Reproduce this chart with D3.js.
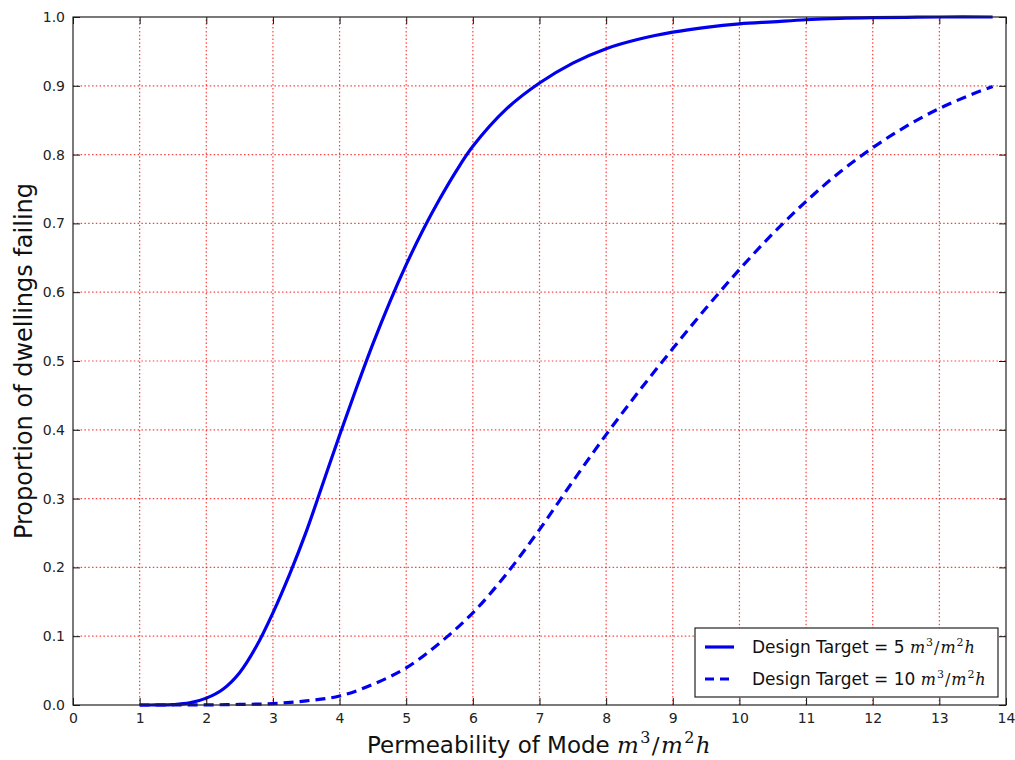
<!DOCTYPE html>
<html>
<head>
<meta charset="utf-8">
<script src="https://cdn.jsdelivr.net/npm/d3@7"></script>
<style>
  body { margin: 0; background: #fff; }
  svg { display: block; }
  .tick-label { font-family: "DejaVu Sans", sans-serif; font-size: 14px; fill: #222; }
</style>
</head>
<body>
<svg id="chart" width="1015" height="760"></svg>
<script>
// Permeability (m3/m2h) sample points for each curve
const permeability5 = [1, 1.25, 1.5, 1.75, 2, 2.25, 2.5, 2.75, 3, 3.25, 3.5, 3.75, 4, 4.25, 4.5, 4.75, 5, 5.25, 5.5, 5.75, 6, 6.5, 7, 7.5, 8, 8.5, 9, 9.5, 10, 10.5, 11, 11.5, 12, 12.5, 13, 13.8];
const failing5 = [0, 0.0001, 0.0006, 0.003, 0.01, 0.023, 0.047, 0.085, 0.134, 0.19, 0.252, 0.322, 0.392, 0.46, 0.525, 0.585, 0.64, 0.69, 0.735, 0.776, 0.812, 0.866, 0.904, 0.933, 0.954, 0.968, 0.978, 0.985, 0.99, 0.993, 0.996, 0.998, 0.999, 0.9995, 1.0, 1.0];

const permeability10 = [1, 1.5, 2, 2.5, 3, 3.5, 4, 4.5, 5, 5.5, 6, 6.5, 7, 7.5, 8, 8.5, 9, 9.5, 10, 10.5, 11, 11.5, 12, 12.5, 13, 13.5, 13.8];
const failing10 = [0, 0, 0.0002, 0.0008, 0.002, 0.006, 0.013, 0.03, 0.054, 0.09, 0.134, 0.19, 0.255, 0.325, 0.393, 0.457, 0.518, 0.577, 0.633, 0.685, 0.732, 0.774, 0.81, 0.841, 0.867, 0.888, 0.899];

const xTicks = d3.range(0, 15, 1);
const yTicks = d3.range(0, 11, 1).map(d => d / 10);

const seriesNames = ["Design Target = 5 ", "Design Target = 10 "];

const margin = { left: 73, top: 17, right: 1015 - 1006, bottom: 760 - 705 };
const W = 1015, H = 760;
const svg = d3.select("#chart");

const x = d3.scaleLinear().domain([0, 14]).range([margin.left, W - margin.right]);
const y = d3.scaleLinear().domain([0, 1]).range([H - margin.bottom, margin.top]);

const plot = svg.append("g");

// Dotted red grid
plot.append("g").selectAll("line.vg").data(xTicks.slice(1, -1)).join("line")
  .attr("x1", d => x(d)).attr("x2", d => x(d))
  .attr("y1", y(0)).attr("y2", y(1))
  .attr("stroke", "#ff0000").attr("stroke-opacity", 0.75).attr("stroke-width", 1.2)
  .attr("stroke-dasharray", "1.5,2.3");
plot.append("g").selectAll("line.hg").data(yTicks.slice(1, -1)).join("line")
  .attr("y1", d => y(d)).attr("y2", d => y(d))
  .attr("x1", x(0)).attr("x2", x(14))
  .attr("stroke", "#ff0000").attr("stroke-opacity", 0.75).attr("stroke-width", 1.2)
  .attr("stroke-dasharray", "1.5,2.3");

// Curves
const line = d3.line().x(d => x(d[0])).y(d => y(d[1])).curve(d3.curveCatmullRom.alpha(0.5));
plot.append("path")
  .datum(d3.zip(permeability10, failing10))
  .attr("d", line).attr("fill", "none")
  .attr("stroke", "#0000ee").attr("stroke-width", 3.2)
  .attr("stroke-dasharray", "10,6");
plot.append("path")
  .datum(d3.zip(permeability5, failing5))
  .attr("d", line).attr("fill", "none")
  .attr("stroke", "#0000ee").attr("stroke-width", 3.2);

// Axes with inward ticks on all four sides
const tickLen = 7;
const axB = d3.axisBottom(x).tickValues(xTicks).tickSize(-tickLen).tickPadding(8).tickFormat(d3.format("d"));
const axT = d3.axisTop(x).tickValues(xTicks).tickSize(-tickLen).tickFormat("");
const axL = d3.axisLeft(y).tickValues(yTicks).tickSize(-tickLen).tickPadding(8).tickFormat(d3.format(".1f"));
const axR = d3.axisRight(y).tickValues(yTicks).tickSize(-tickLen).tickFormat("");

function styleAxis(g) {
  g.select(".domain").remove();
  g.selectAll(".tick line").attr("stroke", "#111").attr("stroke-width", 1);
  g.selectAll(".tick text").attr("class", "tick-label").attr("font-size", null).attr("font-family", null);
}
svg.append("g").attr("transform", `translate(0,${y(0)})`).call(axB).call(styleAxis)
  .selectAll(".tick text").attr("dy", "0.71em");
svg.append("g").attr("transform", `translate(0,${y(1)})`).call(axT).call(styleAxis);
svg.append("g").attr("transform", `translate(${x(0)},0)`).call(axL).call(styleAxis);
svg.append("g").attr("transform", `translate(${x(14)},0)`).call(axR).call(styleAxis);

// Frame
svg.append("rect")
  .attr("x", x(0)).attr("y", y(1))
  .attr("width", x(14) - x(0)).attr("height", y(0) - y(1))
  .attr("fill", "none").attr("stroke", "#222").attr("stroke-width", 1.2);

// Unit text m^3/m^2h in italic serif
function addUnit(textSel, size) {
  const mathFont = "'DejaVu Serif', serif";
  const sup = Math.round(size * 0.68);
  const g = textSel.append("tspan").attr("font-family", mathFont).attr("letter-spacing", size * 0.06);
  g.append("tspan").attr("font-style", "italic").attr("font-size", size).text("m");
  g.append("tspan").attr("font-size", sup).attr("dy", -size * 0.42).text("3");
  g.append("tspan").attr("font-size", size).attr("dy", size * 0.42).text("/");
  g.append("tspan").attr("font-style", "italic").attr("font-size", size).text("m");
  g.append("tspan").attr("font-size", sup).attr("dy", -size * 0.42).text("2");
  g.append("tspan").attr("font-style", "italic").attr("font-size", size).attr("dy", size * 0.42).text("h");
}

// Axis titles
const xTitle = svg.append("text")
  .attr("x", (x(0) + x(14)) / 2).attr("y", 753)
  .attr("text-anchor", "middle")
  .attr("font-family", "'DejaVu Sans', sans-serif").attr("font-size", 23).attr("fill", "#111");
xTitle.append("tspan").text("Permeability of Mode ");
addUnit(xTitle, 23);

svg.append("text")
  .attr("transform", `translate(32,${(y(0) + y(1)) / 2}) rotate(-90)`)
  .attr("text-anchor", "middle")
  .attr("font-family", "'DejaVu Sans', sans-serif").attr("font-size", 24).attr("fill", "#111")
  .text("Proportion of dwellings failing");

// Legend
const lg = svg.append("g");
lg.append("rect").attr("x", 695).attr("y", 628).attr("width", 303).attr("height", 69)
  .attr("fill", "#fff").attr("stroke", "#222").attr("stroke-width", 1.2);
const legendRows = [
  { name: seriesNames[0], dash: null, yy: 647 },
  { name: seriesNames[1], dash: "9,6", yy: 679 }
];
legendRows.forEach(r => {
  lg.append("line").attr("x1", 705).attr("x2", 734).attr("y1", r.yy).attr("y2", r.yy)
    .attr("stroke", "#0000ee").attr("stroke-width", 3.2)
    .attr("stroke-dasharray", r.dash);
  const t = lg.append("text").attr("x", 752).attr("y", r.yy + 6)
    .attr("font-family", "'DejaVu Sans', sans-serif").attr("font-size", 17).attr("fill", "#111");
  t.append("tspan").text(r.name);
  addUnit(t, 16);
});
</script>
</body>
</html>
